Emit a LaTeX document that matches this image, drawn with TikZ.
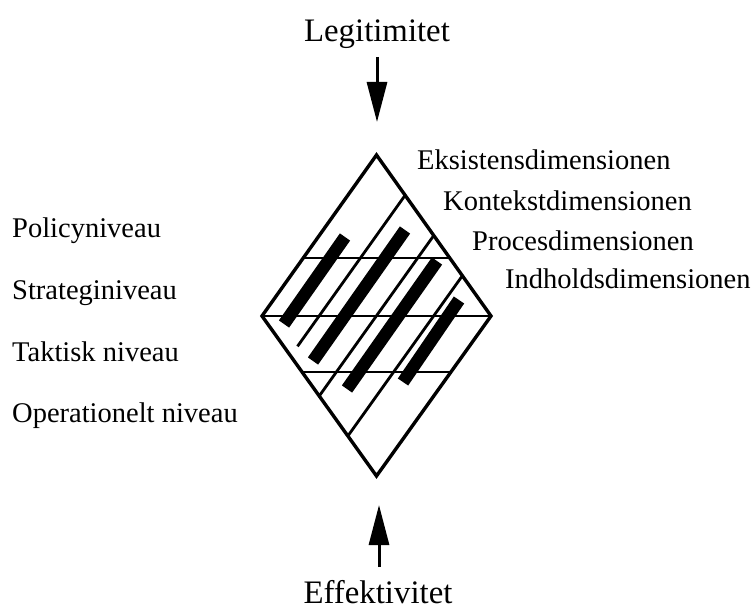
\documentclass[tikz,border=0pt]{standalone}
\usepackage{fontspec}
\setmainfont{Liberation Serif}
\usetikzlibrary{arrows.meta,calc}

\begin{document}
\begin{tikzpicture}[x=1pt,y=-1pt,
 edge/.style={line width=3.4pt,line join=miter},
 gridline/.style={line width=2.8pt},
 bar/.style={line width=12.5pt},
 lvl/.style={anchor=base west,inner sep=0pt,font=\fontsize{28.5}{34}\selectfont},
 dim/.style={anchor=base west,inner sep=0pt,font=\fontsize{28.5}{34}\selectfont},
 head/.style={anchor=base,inner sep=0pt,font=\fontsize{32.8}{38}\selectfont},
 arr/.style={-{Triangle[length=40pt,width=20pt]},line width=3pt}]
 \useasboundingbox (0,0) rectangle (755,610);
 \fill[white] (0,0) rectangle (755,610);
 % diamond corners
 \coordinate (dtop) at (376.5,155);
 \coordinate (dright) at (491,316);
 \coordinate (dbot) at (376.5,476);
 \coordinate (dleft) at (262,316);
 % levels
 \draw[gridline] ($(dleft)!0.36!(dtop)$) -- ($(dright)!0.36!(dtop)$);
 \draw[gridline] (dleft) -- (dright);
 \draw[gridline] ($(dleft)!0.35!(dbot)$) -- ($(dright)!0.35!(dbot)$);
 % dimensions
 \coordinate (k1a) at ($(dtop)!0.25!(dright)$);
 \coordinate (k1b) at ($(dleft)!0.25!(dbot)$);
 \draw[gridline] (k1a) -- ($(k1a)!0.94!(k1b)$);
 \draw[gridline] ($(dtop)!0.5!(dright)$) -- ($(dleft)!0.5!(dbot)$);
 \draw[gridline] ($(dtop)!0.75!(dright)$) -- ($(dleft)!0.75!(dbot)$);
 % black bars
 \draw[bar] (345,237) -- (284,324);
 \draw[bar] (405,230) -- (313,361);
 \draw[bar] (437,261) -- (347,389);
 \draw[bar] (459,300) -- (403,382);
 \draw[edge] (dtop) -- (dright) -- (dbot) -- (dleft) -- cycle;
 % texts
 \node[head] (legit) at (377,42) {Legitimitet};
 \node[head] (effekt) at (378,603) {Effektivitet};
 \node[lvl] (policy) at (12,237) {Policyniveau};
 \node[lvl] (strategi) at (12,299) {Strateginiveau};
 \node[lvl] (taktisk) at (12,361) {Taktisk niveau};
 \node[lvl] (operation) at (12,422) {Operationelt niveau};
 \node[dim] (eksist) at (417,169) {Eksistensdimensionen};
 \node[dim] (kontekst) at (443,210) {Kontekstdimensionen};
 \node[dim] (proces) at (472,250) {Procesdimensionen};
 \node[dim] (indhold) at (505,288) {Indholdsdimensionen};
 % arrows
 \coordinate (legtail) at (377,57);
 \coordinate (legtip) at (377,122);
 \coordinate (efftail) at (379,567);
 \coordinate (efftip) at (379,505);
 \draw[arr] (legtail) -- (legtip);
 \draw[arr] (efftail) -- (efftip);
\end{tikzpicture}
\end{document}
